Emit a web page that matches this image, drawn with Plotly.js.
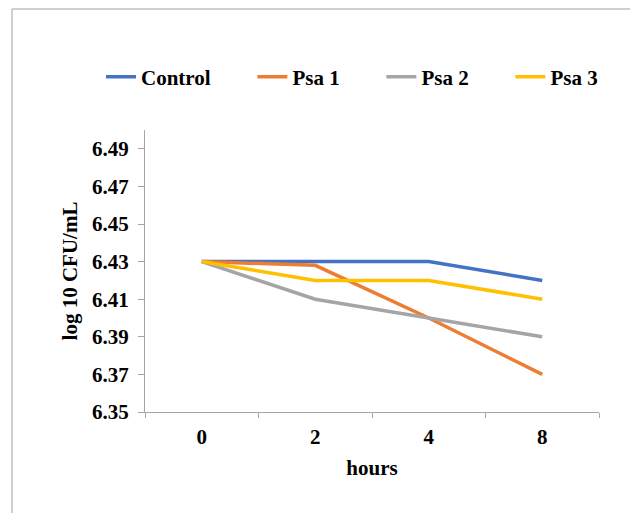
<!DOCTYPE html>
<html>
<head>
<meta charset="utf-8">
<script src="https://cdn.plot.ly/plotly-3.0.1.min.js"></script>
<style>html,body{margin:0;padding:0;background:#fff;}#chart{width:630px;height:513px;}</style>
</head>
<body>
<div id="chart"></div>
<script>
const hours = ["0", "2", "4", "8"];
const control = [6.43, 6.43, 6.43, 6.42];
const psa1 = [6.43, 6.428, 6.40, 6.37];
const psa2 = [6.43, 6.41, 6.40, 6.39];
const psa3 = [6.43, 6.42, 6.42, 6.41];
const seriesNames = ["Control", "Psa 1", "Psa 2", "Psa 3"];
const seriesColors = ["#4472C4", "#ED7D31", "#A5A5A5", "#FFC000"];
const yTicks = [6.35, 6.37, 6.39, 6.41, 6.43, 6.45, 6.47, 6.49];

const pad = "\u00A0".repeat(7);
const font = {family: "Liberation Serif", size: 21, color: "#000", weight: "bold"};
const data = [control, psa1, psa2, psa3].map((v, i) => ({
  x: hours, y: v, type: "scatter", mode: "lines",
  name: seriesNames[i] + (i < seriesNames.length - 1 ? pad : ""),
  line: {color: seriesColors[i], width: 3.5}
}));

const L = 145, R = 31, T = 130, B = 101;
const pw = 630 - L - R, ph = 513 - T - B;
const bx = (12 - L) / pw, by = (513 - B - 9) / ph;

const layout = {
  width: 630, height: 513,
  margin: {l: L, r: R, t: T, b: B, pad: 0},
  paper_bgcolor: "#fff", plot_bgcolor: "#fff",
  font: font,
  showlegend: true,
  legend: {orientation: "h", x: (101 - L) / pw, xanchor: "left", y: 1.188, yanchor: "middle",
           font: font, itemwidth: 30, traceorder: "normal"},
  xaxis: {
    type: "category", range: [-0.5, 3.5], tickson: "boundaries", ticks: "outside", ticklen: 5, tickcolor: "#a6a6a6",
    showline: true, linecolor: "#a6a6a6", linewidth: 1, showgrid: false, zeroline: false,
    tickfont: font, ticklabelstandoff: 6, title: {text: "hours", font: font, standoff: 12}, fixedrange: true
  },
  yaxis: {
    range: [6.35, 6.50], tickvals: yTicks, ticktext: yTicks.map(v => v.toFixed(2)),
    ticks: "outside", ticklen: 6, tickcolor: "#a6a6a6",
    showline: true, linecolor: "#a6a6a6", linewidth: 1, showgrid: false, zeroline: false,
    tickfont: font, ticklabelstandoff: 5, title: {text: "log 10 CFU/mL", font: font, standoff: 8}, fixedrange: true
  },
  shapes: [
    {type: "line", xref: "paper", yref: "paper", x0: bx, x1: bx, y0: -0.5, y1: by, line: {color: "#bfbfbf", width: 1.5}},
    {type: "line", xref: "paper", yref: "paper", x0: bx, x1: 1.2, y0: by, y1: by, line: {color: "#bfbfbf", width: 1.5}}
  ]
};
Plotly.newPlot("chart", data, layout, {displayModeBar: false, staticPlot: true});
</script>
</body>
</html>
